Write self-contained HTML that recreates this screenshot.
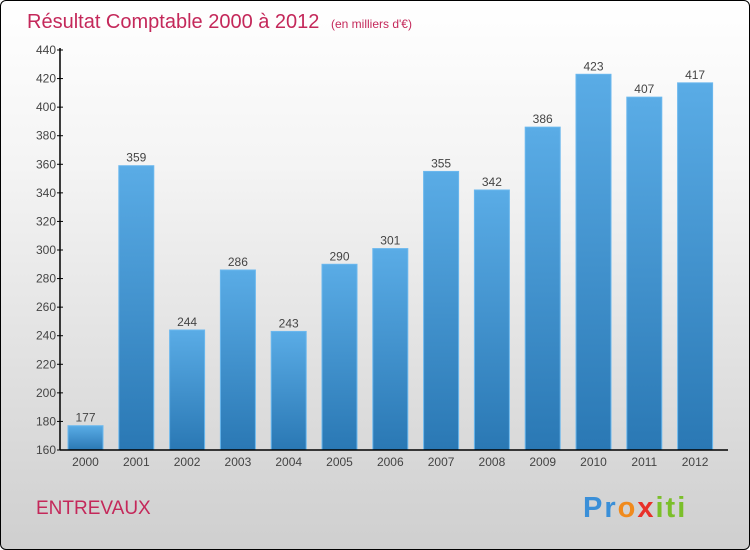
<!DOCTYPE html>
<html><head><meta charset="utf-8"><style>
body{margin:0;width:750px;height:550px;overflow:hidden;font-family:"Liberation Sans",sans-serif}
#wrap{position:absolute;left:0;top:0;width:748px;height:548px;border:1px solid #000;border-radius:6px;background:linear-gradient(#fff,#f4f4f4 30%,#cfcfcf)}
</style></head><body>
<div id="wrap"></div>
<svg id="chart" width="750" height="550" style="position:absolute;left:0;top:0">
<defs><linearGradient id="bg" x1="0" y1="0" x2="0" y2="1"><stop offset="0" stop-color="#5aace6"/><stop offset="1" stop-color="#2a78b4"/></linearGradient></defs>
<text x="27" y="28" font-size="20" fill="#c4285a">Résultat Comptable 2000 à 2012 <tspan font-size="12" dx="6">(en milliers d'€)</tspan></text>
<text x="36" y="514" font-size="19" fill="#c4285a">ENTREVAUX</text>
<text x="583" y="517" font-size="29" font-weight="bold" letter-spacing="2"><tspan fill="#3a8fd8">Pr</tspan><tspan fill="#f08a1c">o</tspan><tspan fill="#e8302a">x</tspan><tspan fill="#7bbf2a">iti</tspan></text>
</svg>
<script>
const years=["2000","2001","2002","2003","2004","2005","2006","2007","2008","2009","2010","2011","2012"];
const values=[177,359,244,286,243,290,301,355,342,386,423,407,417];
const ticks=[160,180,200,220,240,260,280,300,320,340,360,380,400,420,440];
const svg=document.getElementById('chart');const NS='http://www.w3.org/2000/svg';
const y0=450,y1=50,vmin=160,vmax=440,ax=60,step=50.8,bw=35,off=8;
const Y=v=>y0-(v-vmin)*(y0-y1)/(vmax-vmin);
const X=i=>ax+off+i*step;
function mk(t,a,p){const e=document.createElementNS(NS,t);for(const k in a)e.setAttribute(k,a[k]);(p||svg).appendChild(e);return e;}
values.forEach((v,i)=>{
 const r=mk('rect',{x:X(i),y:Y(v),width:bw,height:y0-Y(v),fill:'url(#bg)',stroke:'#6bb8ee','stroke-width':1});
 
 
 const t=mk('text',{x:X(i)+bw/2,y:Y(v)-4,'text-anchor':'middle','font-size':12,fill:'#444'});t.textContent=v;
 
 
 const xl=mk('text',{x:X(i)+bw/2,y:466,'text-anchor':'middle','font-size':12,fill:'#444'});xl.textContent=years[i];
 
 
});
ticks.forEach(v=>{
 const tl=mk('line',{x1:ax-3,x2:ax+3,y1:Y(v),y2:Y(v),stroke:'#000'});
 
 
 const t=mk('text',{x:ax-4,y:Y(v)+4,'text-anchor':'end','font-size':12,fill:'#444'});t.textContent=v;
 
 
});
const ya=mk('line',{x1:ax,x2:ax,y1:y1-2,y2:y0,stroke:'#000','stroke-width':1.5});


const xa=mk('line',{x1:ax,x2:728,y1:y0,y2:y0,stroke:'#000','stroke-width':1.5});


</script>
</body></html>
